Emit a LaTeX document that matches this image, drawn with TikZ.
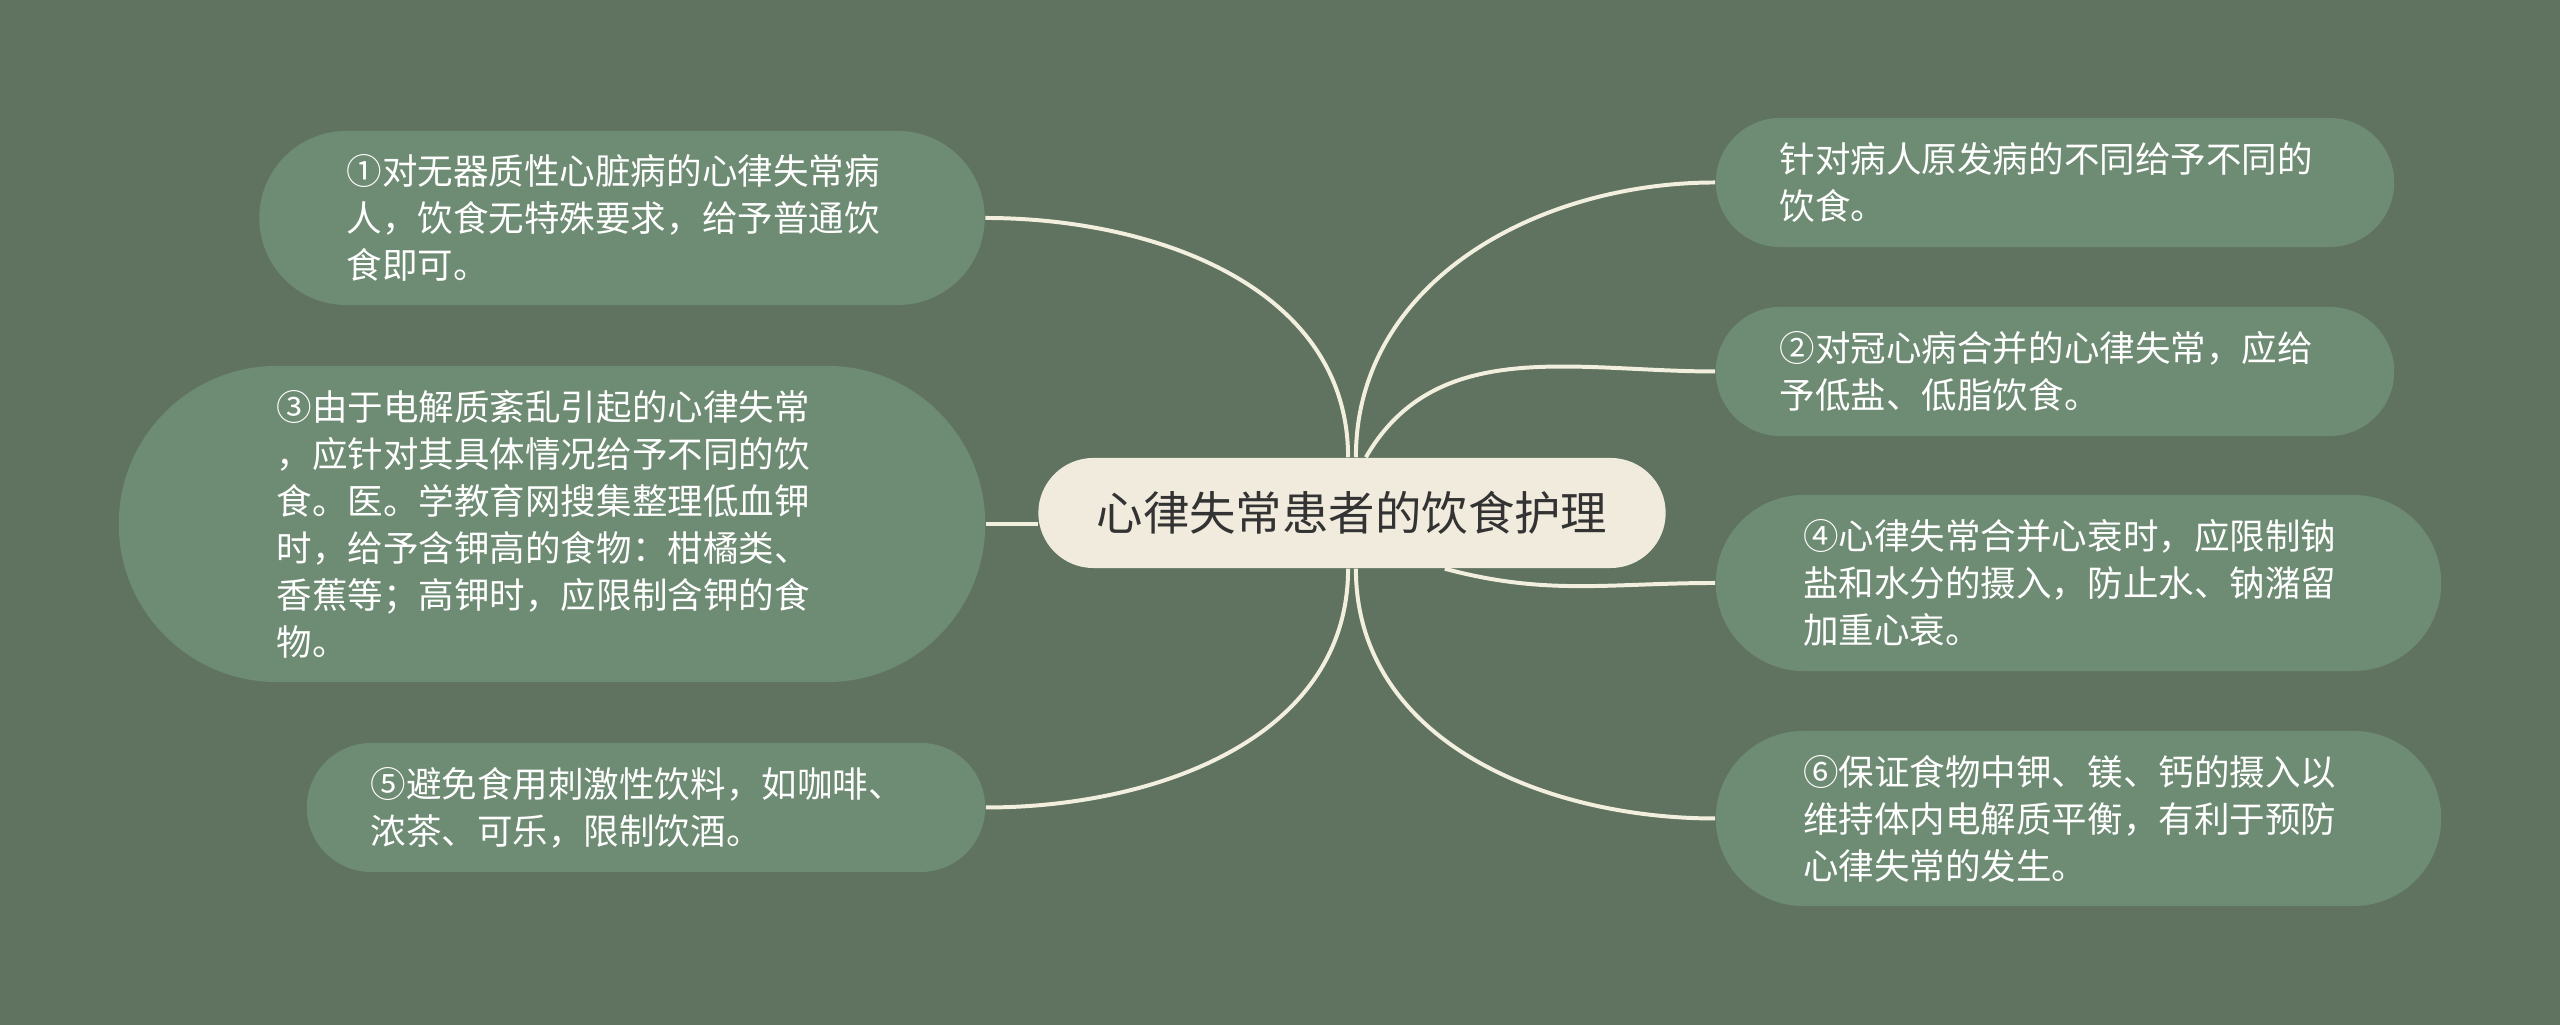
\documentclass[tikz,border=0pt]{standalone}
\usepackage{fontspec}
\newfontfamily\cjk{Noto Sans CJK SC}
\usetikzlibrary{shapes.misc}
\definecolor{BgGreen}{HTML}{607360}
\definecolor{LeafGreen}{HTML}{6E8B73}
\definecolor{TopicCream}{HTML}{F0EBDC}
\definecolor{LinkCream}{HTML}{F3EFDF}
\definecolor{TopicText}{HTML}{333333}
\begin{document}
\begin{tikzpicture}[x = 0.01cm, y = 0.01cm,
              leaf/.style = {rounded rectangle, fill = LeafGreen, text = white, align = left, inner sep = 0pt,
                             text width = 5.5cm, font = \cjk\fontsize{10.1}{13.37}\selectfont},
              topic/.style = {rounded rectangle, fill = TopicCream, text = TopicText, inner sep = 0pt,
                              font = \cjk\fontsize{13.2}{16}\selectfont},
              link/.style = {draw = LinkCream, line width = 1.13pt}]
              \fill [fill = BgGreen] (0, 0) rectangle (2560, 1025);
              \useasboundingbox (0, 0) rectangle (2560, 1025);
              \node [leaf, minimum width = 7.25cm, minimum height = 1.74cm] (l1) at (622, 807)
                {①对无器质性心脏病的心律失常病\\人，饮食无特殊要求，给予普通饮\\食即可。};
              \node [leaf, minimum width = 8.66cm, minimum height = 3.16cm] (l3) at (552, 501)
                {③由于电解质紊乱引起的心律失常\\，应针对其具体情况给予不同的饮\\食。医。学教育网搜集整理低血钾\\时，给予含钾高的食物：柑橘类、\\香蕉等；高钾时，应限制含钾的食\\物。};
              \node [leaf, minimum width = 6.78cm, minimum height = 1.29cm] (l5) at (646, 217.5)
                {⑤避免食用刺激性饮料，如咖啡、\\浓茶、可乐，限制饮酒。};
              \node [leaf, minimum width = 6.78cm, minimum height = 1.29cm] (r0) at (2055, 842.5)
                {针对病人原发病的不同给予不同的\\饮食。};
              \node [leaf, minimum width = 6.78cm, minimum height = 1.29cm] (r2) at (2055, 653.5)
                {②对冠心病合并的心律失常，应给\\予低盐、低脂饮食。};
              \node [leaf, minimum width = 7.25cm, minimum height = 1.76cm] (r4) at (2078.5, 442)
                {④心律失常合并心衰时，应限制钠\\盐和水分的摄入，防止水、钠潴留\\加重心衰。};
              \node [leaf, minimum width = 7.25cm, minimum height = 1.75cm] (r6) at (2078.5, 206.5)
                {⑥保证食物中钾、镁、钙的摄入以\\维持体内电解质平衡，有利于预防\\心律失常的发生。};
              \node [topic, minimum width = 6.27cm, minimum height = 1.1cm] (root) at (1352, 512)
                {心律失常患者的饮食护理};
              \draw [link] (root.94) to [out = 90, in = 0] (l1.east);
              \draw [link] (l3.east) -- (l3.east -| root.west);
              \draw [link] (root.-94) to [out = -90, in = 0] (l5.east);
              \draw [link] (root.86) to [out = 90, in = 180] (r0.west);
              \draw [link] (root.76) to [out = 60, in = 180] (r2.west);
              \draw [link] (root.-31.5) to [out = -15, in = 180] (r4.west);
              \draw [link] (root.-86) to [out = -90, in = 180] (r6.west);
            \end{tikzpicture}
\end{document}
